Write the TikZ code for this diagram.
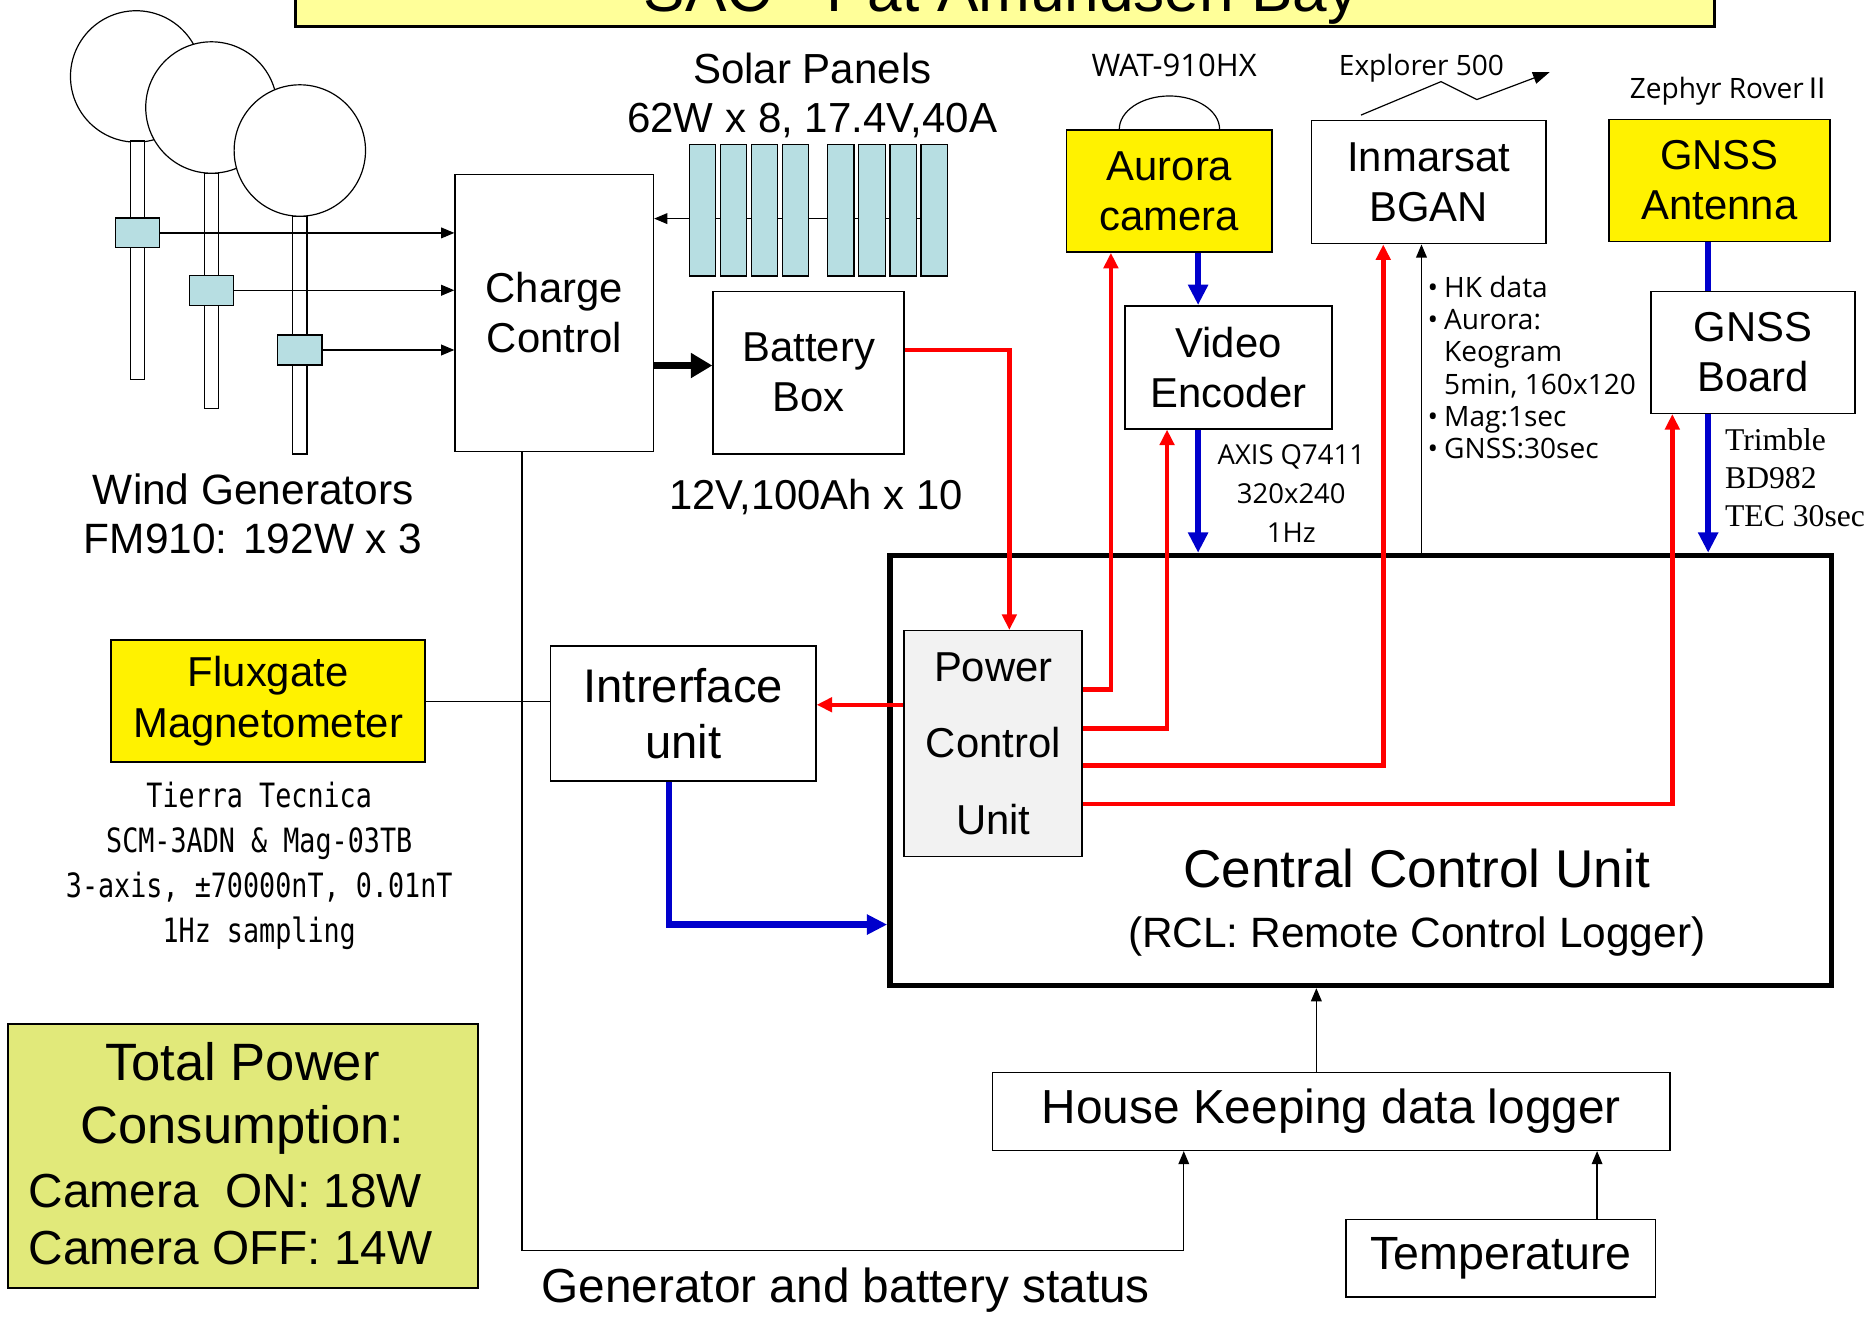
\documentclass[tikz,border=0pt]{standalone}
\usepackage{fontspec}
\setmainfont{Liberation Sans}
\newfontfamily\meiryo{Open Sans}
\newfontfamily\mincho{Liberation Serif}
\newfontfamily\gothic[FakeStretch=0.8]{DejaVu Sans Mono}
\newfontfamily\cjk{Noto Sans CJK JP}
\usepackage{xcolor}
\usetikzlibrary{arrows.meta}

\definecolor{panelblue}{HTML}{B7DEE2}
\definecolor{titleyellow}{HTML}{FFFF99}
\definecolor{powergreen}{HTML}{E1E97A}
\definecolor{pcugray}{HTML}{F2F2F2}
\definecolor{sigblue}{HTML}{0000CC}

\newcommand{\fsz}[2]{\fontsize{#1}{#2}\selectfont}

\tikzset{
  box/.style={draw, line width=1.3pt, fill=white, inner sep=0pt, align=center, font=\fsz{35}{42}},
  ybox/.style={box, fill=yellow},
  hub/.style={draw, line width=1pt, fill=panelblue, inner sep=0pt, minimum width=37pt, minimum height=25pt},
  panel/.style={hub, minimum width=22pt, minimum height=110pt},
  rotor/.style={circle, draw, line width=1pt, fill=white, minimum size=110pt, inner sep=0pt},
  wire/.style={line width=1pt, -{Triangle[length=11pt,width=9pt]}},
  pwr/.style={red, line width=3.8pt, -{Triangle[length=13pt,width=12pt]}},
  sig/.style={sigblue, line width=5.5pt, -{Triangle[length=17pt,width=16pt]}},
  note/.style={inner sep=0pt, align=center},
}

\begin{document}
\begin{tikzpicture}[x=1pt, y=-1pt]
  \clip (0,0) rectangle (1568,1102);

  % title bar, running off the top of the page
  \draw[line width=2.5pt, fill=titleyellow] (247,-80) rectangle (1435,22);
  \node[anchor=base, inner sep=0pt, font=\fsz{52}{60}] (title) at (838,10) {SAC - Pat Amundsen Bay};

  % wind generators
  \node[rotor] (rotor1) at (114,64) {};
  \draw[line width=1pt, fill=white] (109,118) rectangle (121,318);
  \node[rotor] (rotor2) at (177,90) {};
  \draw[line width=1pt, fill=white] (171,145) rectangle (183,342);
  \node[rotor] (rotor3) at (251,126) {};
  \draw[line width=1pt, fill=white] (245,181) rectangle (257,380);
  \node[hub] (hub1) at (115,195) {};
  \node[hub] (hub2) at (177,243) {};
  \node[hub] (hub3) at (251,293) {};
  \node[note, font=\fsz{35.5}{41}] (windlbl) at (212,430) {Wind Generators\\FM910: 192W x 3};

  \node[box, minimum width=166, minimum height=232] (charge) at (464,262) {Charge\\Control};
  \foreach \i in {1,2,3}
    \draw[wire] (hub\i) -- (charge.west |- hub\i);

  % solar panels
  \node[note, font=\fsz{35.2}{41}] (solarlbl) at (680,80) {Solar Panels\\62W x 8, 17.4V,40A};
  \coordinate (solarbus) at (0,183);
  \foreach \x [count=\i] in {588,614,640,666,704,730,756,782}
    \node[panel] (p\i) at (\x,176) {};
  \foreach \i [evaluate=\i as \j using int(\i+1)] in {1,...,7}
    \draw[line width=1pt] (p\i.east |- solarbus) -- (p\j.west |- solarbus);
  \draw[wire] (p1.west |- solarbus) -- (charge.east |- solarbus);

  % battery
  \node[box, minimum width=160, minimum height=136] (battery) at (677,312) {Battery\\Box};
  \node[note, font=\fsz{35}{42}] (battlbl) at (683,416) {12V,100Ah x 10};
  \draw[line width=6pt, -{Triangle[length=18pt,width=20pt]}] (charge.east |- 0,306) -- (battery.west |- 0,306);

  % camera chain
  \node[note, font=\meiryo\fsz{26}{30}] (watlbl) at (983,55) {WAT-910HX};
  \node[ybox, minimum width=172, minimum height=102] (aurora) at (979,160) {Aurora\\camera};
  \draw[line width=1pt] ([xshift=-42pt]aurora.north) arc[start angle=180, end angle=0, x radius=42pt, y radius=28pt];
  \node[box, minimum width=173, minimum height=103] (encoder) at (1028.5,307.5) {Video\\Encoder};
  \node[note, font=\meiryo\fsz{23}{32.5}] (axislbl) at (1081,413) {AXIS Q7411\\320x240\\1Hz};

  % satellite link
  \node[note, font=\meiryo\fsz{23.5}{28}] (explbl) at (1190,57) {Explorer 500};
  \node[box, minimum width=196, minimum height=103] (inmarsat) at (1196,152.5) {Inmarsat\\BGAN};
  \draw[line width=1pt, -{Triangle[length=14pt,width=10pt]}] ([shift={(42,-4)}]inmarsat.north west)
    -- ++(67,-28) -- ++(30,15) -- ++(61,-23);
  \node[anchor=west, inner sep=0pt, font=\meiryo\fsz{23.5}{27}] (hklist) at (1195,311)
    {\begin{tabular}{@{}l@{\hspace{5pt}}l@{}}
      • & HK data\\
      • & Aurora:\\
        & Keogram\\
        & 5min, 160x120\\
      • & Mag:1sec\\
      • & GNSS:30sec
    \end{tabular}};

  % GNSS
  \node[note, font=\meiryo\fsz{23.5}{28}] (zephlbl) at (1449,76) {Zephyr Rover{\cjk Ⅱ}};
  \node[ybox, minimum width=185, minimum height=102] (antenna) at (1439.5,151) {GNSS\\Antenna};
  \node[box, minimum width=171, minimum height=102] (gnssboard) at (1467.5,295) {GNSS\\Board};
  \node[anchor=west, note, align=left, font=\mincho\fsz{26.5}{32}] (trimlbl) at (1444,400) {Trimble\\BD982\\TEC 30sec};

  % central unit
  \node[draw, line width=4.5pt, inner sep=0pt, minimum width=788, minimum height=360] (ccu) at (1139,645) {};
  \node[note, font=\fsz{44.5}{50}] (ccutitle) at (1186,727) {Central Control Unit};
  \node[note, font=\fsz{35.5}{42}] (ccusub) at (1186,784) {(RCL: Remote Control Logger)};
  \node[box, fill=pcugray, minimum width=149, minimum height=189, font=\fsz{35}{64}] (pcu) at (831.5,622.5) {Power\\Control\\Unit};

  % magnetometer side
  \node[ybox, minimum width=263, minimum height=102] (flux) at (224.5,587) {Fluxgate\\Magnetometer};
  \node[note, font=\gothic\fsz{28}{37.7}] (fluxlbl) at (217,724.5)
    {Tierra Tecnica\\SCM-3ADN \& Mag-03TB\\3-axis, ±70000nT, 0.01nT\\1Hz sampling};
  \node[box, minimum width=222, minimum height=113, font=\fsz{39.5}{47}] (iface) at (572,597.5) {Intrerface\\unit};
  \draw[line width=1pt] (flux.east) -- (iface.west |- flux.east);

  % house keeping
  \node[box, minimum width=567, minimum height=65, font=\fsz{40}{48}] (hk) at (1114.5,930.5) {House Keeping data logger};
  \node[box, minimum width=259, minimum height=65, font=\fsz{39}{46}] (temp) at (1256.5,1053.5) {Temperature};
  \node[note, font=\fsz{40}{48}] (statlbl) at (708,1080) {Generator and battery status};
  \draw[wire] ([xshift=-27pt]charge.south) -- ++(0,668) -| ([xshift=-123.5pt]hk.south);
  \draw[wire] (hk.north -| 1102,0) -- (ccu.south -| 1102,0);
  \draw[wire] (temp.north -| 1337,0) -- (hk.south -| 1337,0);

  % data lines
  \draw[sig] (aurora.south -| 1003,0) -- (encoder.north -| 1003,0);
  \draw[sig] (encoder.south -| 1003,0) -- (ccu.north -| 1003,0);
  \draw[sig, -] (antenna.south -| 1430,0) -- (gnssboard.north -| 1430,0);
  \draw[sig] (gnssboard.south -| 1430,0) -- (ccu.north -| 1430,0);
  \draw[sig] (iface.south -| 560,0) |- (ccu.west |- 0,774);
  \draw[wire] (ccu.north -| 1190,0) -- (inmarsat.south -| 1190,0);

  % power lines
  \draw[pwr] (battery.east |- 0,293) -| (pcu.north -| 845,0);
  \draw[pwr] (pcu.east |- 0,577) -| (aurora.south -| 930,0);
  \draw[pwr] (pcu.east |- 0,610) -| (encoder.south -| 977,0);
  \draw[pwr] (pcu.east |- 0,641) -| (inmarsat.south -| 1158,0);
  \draw[pwr] (pcu.east |- 0,673) -| (gnssboard.south -| 1400,0);
  \draw[pwr] (pcu.west |- 0,590) -- (iface.east |- 0,590);

  % power budget
  \node[draw, line width=1.5pt, fill=powergreen, minimum width=393, minimum height=221] (total) at (203.5,967.5) {};
  \node[note, font=\fsz{44}{53}] (totaltop) at (203,919.5) {Total Power\\Consumption:};
  \node[anchor=west, note, align=left, font=\fsz{40}{48}] (totalcam) at (24,1021) {Camera\ \ ON: 18W\\Camera OFF: 14W};
\end{tikzpicture}
\end{document}
